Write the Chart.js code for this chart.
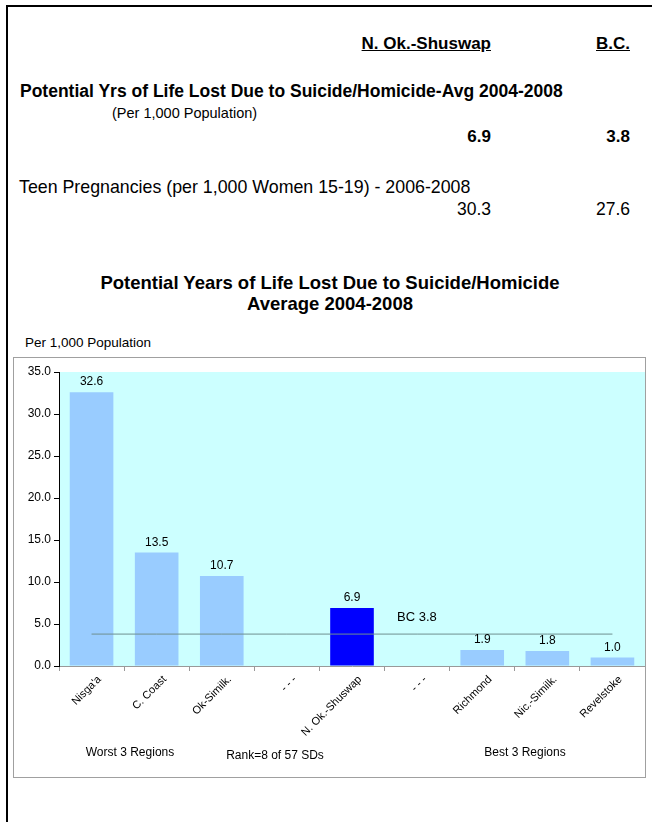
<!DOCTYPE html>
<html>
<head>
<meta charset="utf-8">
<script src="https://cdn.jsdelivr.net/npm/chart.js@4.4.1/dist/chart.umd.min.js"></script>
<style>
  body { margin: 0; width: 652px; height: 822px; background: #fff; position: relative; overflow: hidden;
         font-family: 'Liberation Sans', Arial, sans-serif; color: #000; }
  .frame { position: absolute; left: 6px; top: 5px; width: 660px; height: 830px;
           border-top: 2px solid #000; border-left: 2px solid #000; }
  .t { position: absolute; white-space: nowrap; line-height: 1; }
  .b { font-weight: bold; }
  .u { text-decoration: underline; }
  .r { text-align: right; }
  .box { position: absolute; left: 13px; top: 357px; width: 633px; height: 421px;
         border: 1px solid #a0a0a0; box-sizing: border-box; }
  #chartWrap { position: absolute; left: 13px; top: 357px; width: 632px; height: 420px; }
</style>
</head>
<body>
<div class="frame"></div>

<div class="t b u r" style="font-size:17px; right:161px; top:35px;">N. Ok.-Shuswap</div>
<div class="t b u r" style="font-size:17px; right:22px; top:35px;">B.C.</div>

<div class="t b" style="font-size:17.5px; left:20px; top:83px;">Potential Yrs of Life Lost Due to Suicide/Homicide-Avg 2004-2008</div>
<div class="t" style="font-size:14.5px; left:112px; top:106px;">(Per 1,000 Population)</div>
<div class="t b r" style="font-size:17px; right:161px; top:128px;">6.9</div>
<div class="t b r" style="font-size:17px; right:22px; top:128px;">3.8</div>

<div class="t" style="font-size:17.8px; left:19px; top:179px;">Teen Pregnancies (per 1,000 Women 15-19) - 2006-2008</div>
<div class="t r" style="font-size:17.5px; right:161px; top:201px;">30.3</div>
<div class="t r" style="font-size:17.5px; right:22px; top:201px;">27.6</div>

<div class="t b" style="font-size:18.5px; left:0; width:660px; text-align:center; top:274px;">Potential Years of Life Lost Due to Suicide/Homicide</div>
<div class="t b" style="font-size:18.5px; left:0; width:660px; text-align:center; top:295px;">Average 2004-2008</div>

<div class="t" style="font-size:13.5px; left:25px; top:336px;">Per 1,000 Population</div>

<div class="box"></div>
<div id="chartWrap"><canvas id="pyllChart" width="632" height="420"></canvas></div>

<div class="t" style="font-size:12px; left:55px; width:150px; text-align:center; top:746px;">Worst 3 Regions</div>
<div class="t" style="font-size:12px; left:200px; width:150px; text-align:center; top:749px;">Rank=8 of 57 SDs</div>
<div class="t" style="font-size:12px; left:450px; width:150px; text-align:center; top:746px;">Best 3 Regions</div>

<script>
const categories = ["Nisga'a", 'C. Coast', 'Ok-Similk.', '- - -', 'N. Ok.-Shuswap', '- - -', 'Richmond', 'Nic.-Similk.', 'Revelstoke'];
const pyllValues = [32.6, 13.5, 10.7, null, 6.9, null, 1.9, 1.8, 1.0];
const bcAverage = [3.8, 3.8, 3.8, 3.8, 3.8, 3.8, 3.8, 3.8, 3.8];
const bcLabel = 'BC 3.8';
const yMin = 0, yMax = 35, yStep = 5;

const highlight = 'N. Ok.-Shuswap';
const barColors = categories.map(c => c === highlight ? '#0000FF' : '#99CCFF');
const FONT = "'Liberation Sans', Arial, sans-serif";

// cyan plot background
const plotBg = {
    id: 'plotBg',
    beforeDraw(chart) {
        const { ctx, chartArea: a } = chart;
        ctx.save();
        ctx.fillStyle = '#CCFFFF';
        ctx.fillRect(a.left, a.top, a.right - a.left, a.bottom - a.top);
        ctx.restore();
    }
};

// value labels above bars + the "BC 3.8" note
const barLabels = {
    id: 'barLabels',
    afterDatasetsDraw(chart) {
        const { ctx } = chart;
        const meta = chart.getDatasetMeta(0);
        ctx.save();
        ctx.fillStyle = '#000';
        ctx.font = '12px ' + FONT;
        ctx.textAlign = 'center';
        ctx.textBaseline = 'bottom';
        meta.data.forEach((bar, i) => {
            const v = pyllValues[i];
            if (v === null) return;
            ctx.fillText(v.toFixed(1), bar.x, bar.y - 4);
        });
        const xs = chart.scales.x, ys = chart.scales.y;
        ctx.font = '13px ' + FONT;
        ctx.textAlign = 'left';
        ctx.fillText(bcLabel, xs.getPixelForValue(4) + 45, ys.getPixelForValue(3.8) - 10);
        ctx.restore();
    }
};

new Chart(document.getElementById('pyllChart'), {
    data: {
        labels: categories,
        datasets: [
            {
                type: 'bar',
                data: pyllValues,
                backgroundColor: barColors,
                borderWidth: 0,
                barPercentage: 0.67,
                categoryPercentage: 1,
                order: 2
            },
            {
                type: 'line',
                data: bcAverage,
                borderColor: '#6f8f8f',
                borderWidth: 1,
                pointRadius: 0,
                fill: false,
                order: 1
            }
        ]
    },
    options: {
        responsive: false,
        animation: false,
        layout: { padding: { top: 15, left: 0, right: 0, bottom: 0 } },
        plugins: { legend: { display: false }, tooltip: { enabled: false } },
        scales: {
            x: {
                offset: true,
                grid: { offset: true, drawOnChartArea: false, drawTicks: true, tickLength: 5, color: '#999' },
                border: { color: '#999' },
                ticks: {
                    autoSkip: false, maxRotation: 45, minRotation: 45, padding: 2, labelOffset: 8,
                    color: '#000', font: { family: FONT, size: 11 }
                },
                afterFit(s) { s.height = 111; s.paddingLeft = 0; s.paddingRight = 0; }
            },
            y: {
                min: yMin, max: yMax,
                grid: { drawOnChartArea: false, drawTicks: true, tickLength: 5, color: '#000' },
                border: { color: '#000' },
                ticks: {
                    stepSize: yStep, padding: 3, color: '#000',
                    font: { family: FONT, size: 12 },
                    callback: v => v.toFixed(1)
                },
                afterFit(s) { s.width = 46; s.paddingTop = 0; s.paddingBottom = 0; }
            }
        }
    },
    plugins: [plotBg, barLabels]
});
</script>
</body>
</html>
